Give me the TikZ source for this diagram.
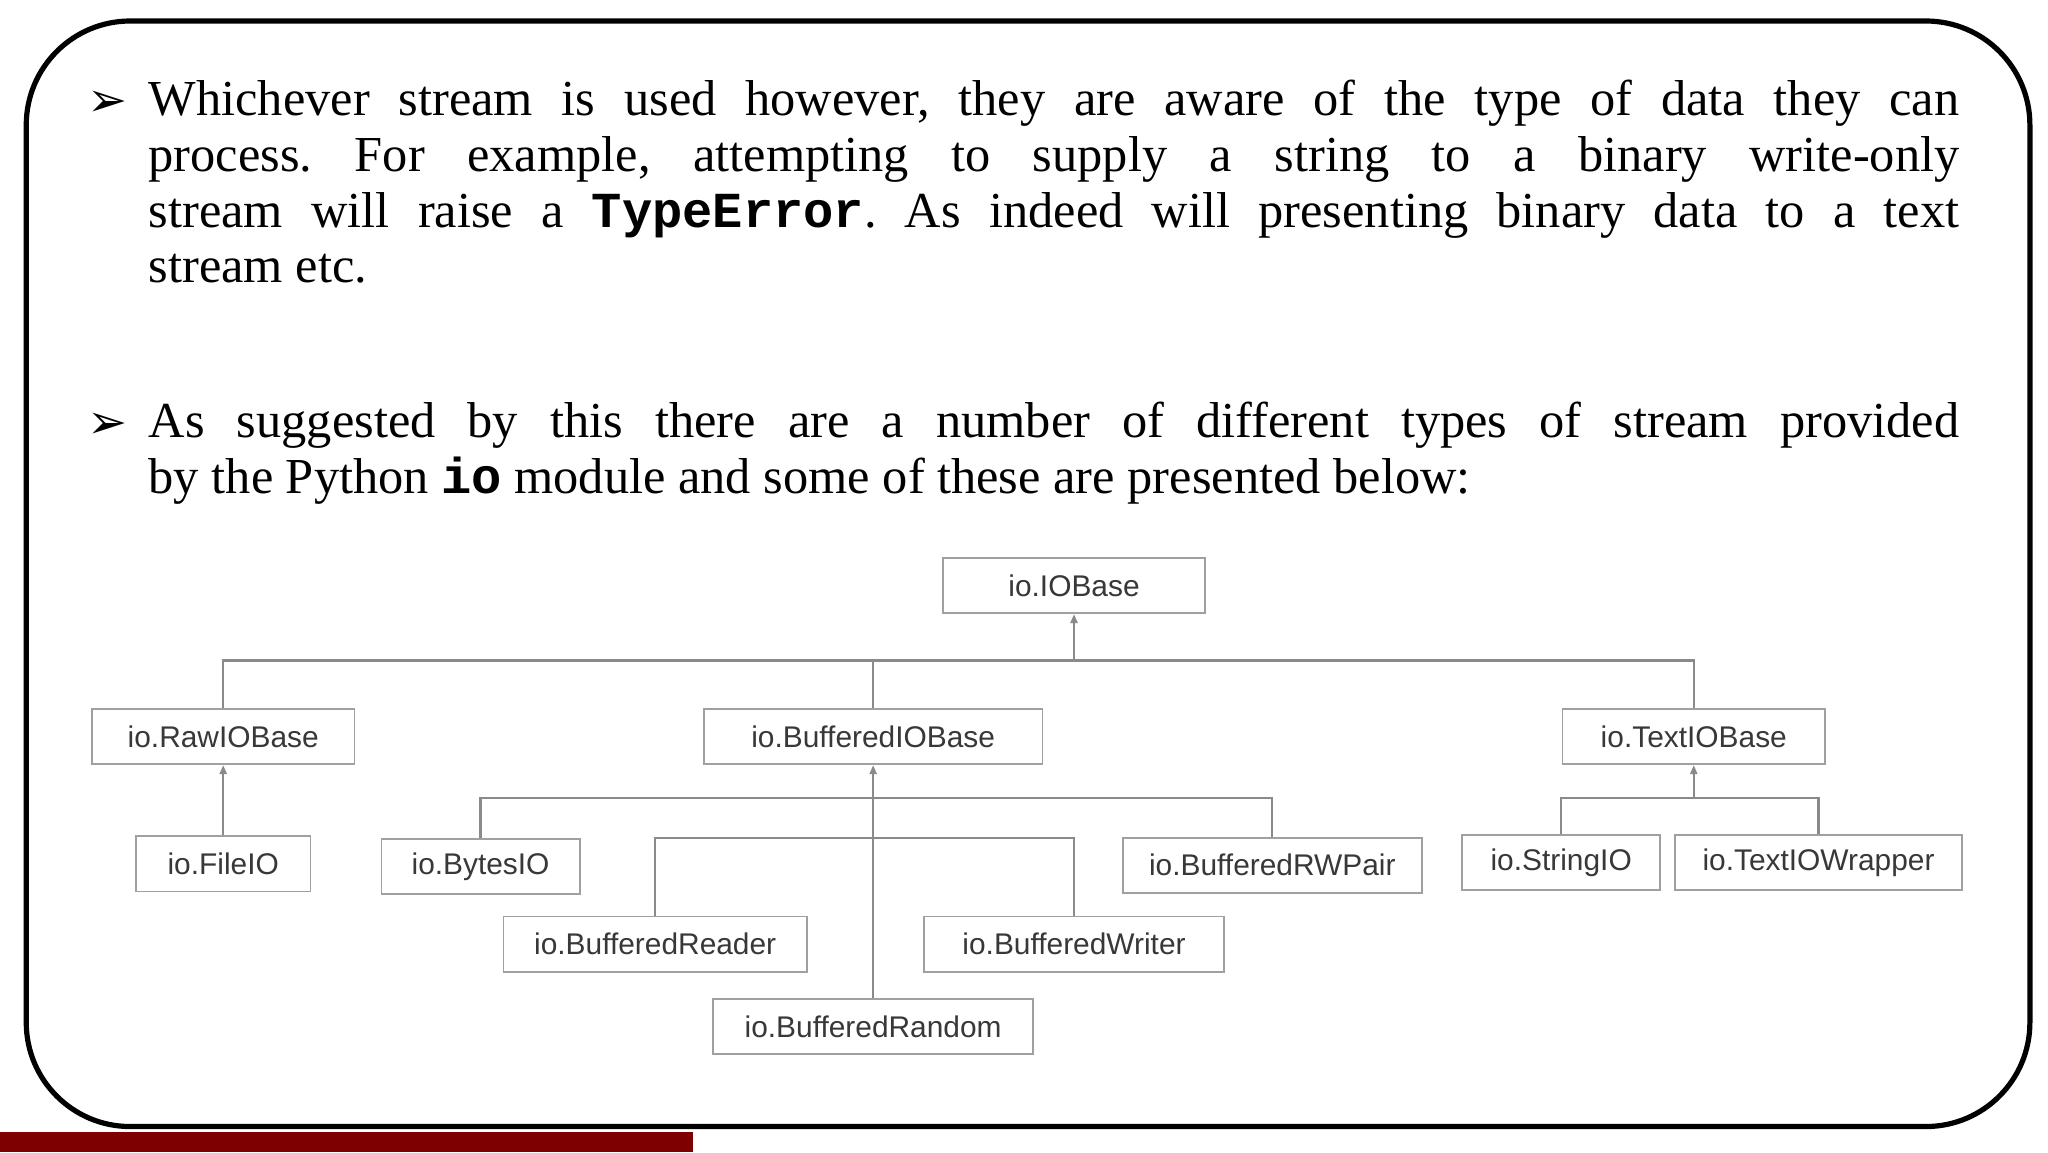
\documentclass[tikz,border=0pt]{standalone}
\usepackage{fontspec}
\setmainfont{Liberation Serif}
\newfontfamily\djv{DejaVu Sans}
\newfontfamily\arialf{Liberation Sans}
\newfontfamily\monof{Liberation Mono}
\usetikzlibrary{arrows.meta}
\definecolor{boxline}{HTML}{A0A0A0}
\definecolor{conn}{HTML}{8A8A8A}
\definecolor{barred}{HTML}{7F0000}
\tikzset{
  cls/.style={draw=boxline, line width=0.9bp, fill=white, minimum height=27.6bp, inner sep=0pt,
    font=\arialf\fontsize{15}{17}\selectfont, text=black!78},
  conline/.style={draw=conn, line width=1.1bp},
  inh/.style={conline, -{Triangle[length=4.5bp,width=3.5bp]}},
  bul/.style={anchor=base west, inner sep=0pt, font=\djv\bfseries\fontsize{24}{26}\selectfont},
  para/.style={anchor=north west, inner sep=0pt, text width=905.3bp, align=justify,
    font=\frenchspacing\fontsize{25.3}{27.9}\selectfont}
}
\begin{document}
\begin{tikzpicture}[x=0.6565bp,y=-0.6565bp]
\useasboundingbox (0,0) rectangle (1559.8,877.4);
\draw[line width=2.6bp, rounded corners=52bp] (20,16) rectangle (1546,858);
\fill[barred] (0,862) rectangle (528,877.4);
% bullets
\node[bul] (b1) at (66,89) {➢};
\node[bul] (b2) at (66,334) {➢};
\node[para] (p1) at (113,61) {Whichever stream is used however, they are aware of the type of data they can\linebreak process. For example, attempting to supply a string to a binary write-only\linebreak stream will raise a {\monof\bfseries TypeError}. As indeed will presenting binary data to a text\linebreak stream etc.};
\node[para] (p2) at (113,306) {As suggested by this there are a number of different types of stream provided\linebreak by the Python {\monof\bfseries io} module and some of these are presented below:};
% classes
\node[cls, minimum width=131.3bp] (iob) at (818,446) {io.IOBase};
\node[cls, minimum width=131.3bp] (raw) at (170,561) {io.RawIOBase};
\node[cls, minimum width=169.4bp] (buf) at (665,561) {io.BufferedIOBase};
\node[cls, minimum width=131.3bp] (txt) at (1290,561) {io.TextIOBase};
\node[cls, minimum width=87.3bp] (fio) at (170,658) {io.FileIO};
\node[cls, minimum width=99.1bp] (bio) at (366,660) {io.BytesIO};
\node[cls, minimum width=149.7bp] (rwp) at (969,659) {io.BufferedRWPair};
\node[cls, minimum width=99.1bp] (sio) at (1189,657) {io.StringIO};
\node[cls, minimum width=143.8bp] (tiw) at (1385,657) {io.TextIOWrapper};
\node[cls, minimum width=151.7bp] (brd) at (499,719) {io.BufferedReader};
\node[cls, minimum width=149.7bp] (bwr) at (818,719) {io.BufferedWriter};
\node[cls, minimum width=160.2bp] (bra) at (665,782) {io.BufferedRandom};
% bus coordinates
\coordinate (t1) at (818,503);
\coordinate (t2) at (665,608);
\coordinate (t3) at (1290,608);
% top level
\draw[conline] (raw.north) |- (t1) -| (txt.north);
\draw[conline] (buf.north) -- (buf.north |- t1);
\draw[inh] (t1) -- (iob.south);
% raw
\draw[inh] (fio.north) -- (raw.south);
% buffered
\draw[conline] (bio.north) |- (t2) -| (rwp.north);
\draw[conline] (brd.north) |- (665,638) -| (bwr.north);
\draw[inh] (bra.north) -- (buf.south);
% text
\draw[conline] (sio.north) |- (t3) -| (tiw.north);
\draw[inh] (t3) -- (txt.south);
\end{tikzpicture}
\end{document}
